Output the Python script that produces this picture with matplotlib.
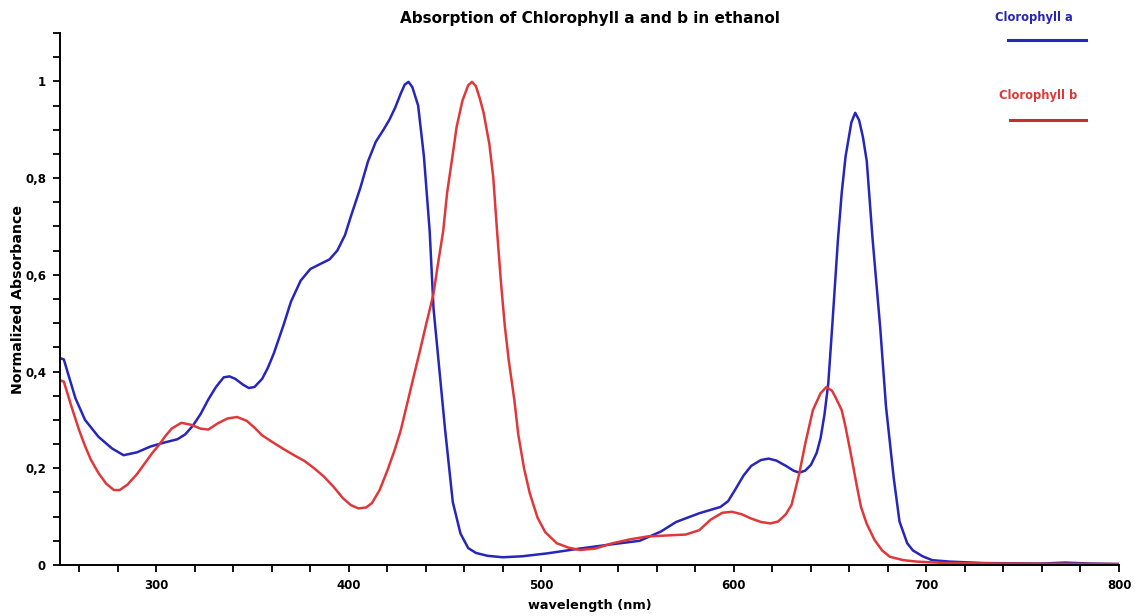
import numpy as np
import matplotlib
matplotlib.use('Agg')
import matplotlib.pyplot as plt
from matplotlib.ticker import MultipleLocator, FixedLocator
from matplotlib.lines import Line2D

# Chlorophyll a
wl_a = [250, 252, 254, 258, 263, 270, 277, 283, 290, 297, 304, 311, 315, 319, 323, 327, 331, 335, 338,
        341, 345, 348, 351, 355, 358, 361, 366, 370, 375, 380, 385, 390, 394, 398, 401, 406, 410,
        414, 418, 421, 424, 427, 429, 431, 433, 436, 439, 442, 444, 447, 450, 454, 458, 462, 466, 472,
        480, 490, 503, 520, 535, 551, 562, 570, 582, 593, 597, 601, 605, 609, 614, 618, 622, 627,
        631, 634, 637, 640, 643, 645, 647, 649, 651, 654, 656, 658, 661, 663, 665, 667, 669, 672,
        676, 679, 683, 686, 690, 693, 698, 703, 712, 730, 760, 772, 785, 800]
abs_a = [0.428, 0.425, 0.398, 0.345, 0.300, 0.265, 0.241, 0.227, 0.233, 0.245, 0.253, 0.260, 0.270,
         0.288, 0.312, 0.342, 0.368, 0.388, 0.390, 0.385, 0.373, 0.366, 0.368, 0.385, 0.408, 0.437, 0.495,
         0.545, 0.588, 0.612, 0.622, 0.632, 0.650, 0.682, 0.720, 0.780, 0.835, 0.875, 0.900, 0.920,
         0.945, 0.975, 0.993, 0.999, 0.988, 0.950, 0.845, 0.690, 0.530, 0.405, 0.280, 0.130, 0.065, 0.035,
         0.025, 0.019, 0.016, 0.018, 0.024, 0.034, 0.042, 0.050, 0.069, 0.089, 0.107, 0.120, 0.132,
         0.158, 0.185, 0.205, 0.217, 0.220, 0.216, 0.205, 0.195, 0.191, 0.195, 0.207, 0.232, 0.262,
         0.310, 0.375, 0.490, 0.671, 0.770, 0.845, 0.915, 0.935, 0.920, 0.885, 0.835, 0.675, 0.490,
         0.327, 0.180, 0.090, 0.045, 0.030, 0.018, 0.010, 0.007, 0.004, 0.003, 0.005, 0.003, 0.002]

# Chlorophyll b
wl_b = [250, 252, 256, 260, 263, 266, 270, 274, 278, 281, 285, 290, 294, 298, 301, 305, 308, 313,
        318, 323, 327, 332, 337, 342, 347, 351, 355, 360, 366, 372, 377, 382, 387, 392, 397, 401,
        405, 409, 412, 416, 420, 424, 427, 431, 434, 437, 440, 444, 446, 449, 451, 454, 456, 459,
        462, 464, 466, 468, 470, 473, 475, 477, 479, 481, 483, 486, 488, 491, 494, 498, 502, 508,
        514, 520, 528, 537, 546, 555, 565, 575, 582, 588, 594, 599, 604, 609, 614, 619, 623, 627,
        630, 634, 637, 641, 645, 648, 651, 653, 656, 658, 661, 664, 666, 669, 673, 677, 681, 688,
        695, 710, 740, 800]
abs_b = [0.382, 0.379, 0.327, 0.278, 0.246, 0.218, 0.190, 0.168, 0.155, 0.155, 0.166, 0.188, 0.210,
         0.232, 0.246, 0.268, 0.282, 0.294, 0.290, 0.282, 0.280, 0.293, 0.303, 0.306, 0.298, 0.284,
         0.268, 0.255, 0.240, 0.226, 0.215, 0.200, 0.183, 0.162, 0.138, 0.124, 0.117, 0.119, 0.128,
         0.155, 0.195, 0.240, 0.279, 0.345, 0.395, 0.444, 0.495, 0.561, 0.615, 0.690, 0.768, 0.850,
         0.906, 0.960, 0.992, 0.999, 0.990, 0.965, 0.935, 0.870, 0.802, 0.690, 0.585, 0.495, 0.425,
         0.340, 0.270, 0.200, 0.148, 0.098, 0.068, 0.045, 0.036, 0.031, 0.034, 0.045, 0.053, 0.059,
         0.061, 0.063, 0.072, 0.094, 0.108, 0.110, 0.105, 0.096, 0.089, 0.086, 0.090, 0.105, 0.125,
         0.190, 0.250, 0.320, 0.355, 0.368, 0.360, 0.345, 0.320, 0.285, 0.224, 0.160, 0.120, 0.085,
         0.052, 0.030, 0.017, 0.010, 0.007, 0.004, 0.003, 0.002]

x_ticks = [300, 400, 500, 600, 700, 800]
y_ticks = [0, 0.2, 0.4, 0.6, 0.8, 1.0]
y_labels = ['0', '0,2', '0,4', '0,6', '0,8', '1']

blue = '#2626bb'
red = '#e0383a'

plt.rcParams['font.family'] = 'DejaVu Sans'
fig = plt.figure(figsize=(11.37, 6.16), dpi=100)
ax = fig.add_axes([60/1137, 51/616, (1119-60)/1137, (565-33)/616])

ax.plot(wl_a, abs_a, color=blue, lw=1.8)
ax.plot(wl_b, abs_b, color=red, lw=1.8)

ax.set_xlim(250, 800)
ax.set_ylim(0, 1.1)
ax.spines['top'].set_visible(False)
ax.spines['right'].set_visible(False)
for s in ['left', 'bottom']:
    ax.spines[s].set_linewidth(1.4)

ax.xaxis.set_major_locator(FixedLocator(x_ticks))
ax.xaxis.set_minor_locator(MultipleLocator(20))
ax.set_yticks(y_ticks)
ax.set_yticklabels(y_labels)
ax.yaxis.set_minor_locator(MultipleLocator(0.05))
ax.tick_params(which='major', length=5, width=1.3, labelsize=8.5, pad=5)
ax.tick_params(which='minor', length=5, width=1.3)
for lab in ax.get_xticklabels() + ax.get_yticklabels():
    lab.set_fontweight('bold')

ax.set_xlabel('wavelength (nm)', fontsize=9.3, fontweight='bold', labelpad=5)
ax.set_ylabel('Normalized Absorbance', fontsize=10.2, fontweight='bold', labelpad=0)
ax.set_title('Absorption of Chlorophyll a and b in ethanol', fontsize=11, fontweight='bold', pad=7)

# legend drawn by hand at top right
fig.text(995/1137, 1-17/616, 'Clorophyll a', color=blue, fontsize=8.3, fontweight='bold', va='center')
fig.add_artist(Line2D([1008/1137, 1086/1137], [1-40/616, 1-40/616], color=blue, lw=2.2))
fig.text(999/1137, 1-96/616, 'Clorophyll b', color=red, fontsize=8.3, fontweight='bold', va='center')
fig.add_artist(Line2D([1010/1137, 1086/1137], [1-120/616, 1-120/616], color='#c03030', lw=2.2))

fig.savefig('out.png', dpi=100)
